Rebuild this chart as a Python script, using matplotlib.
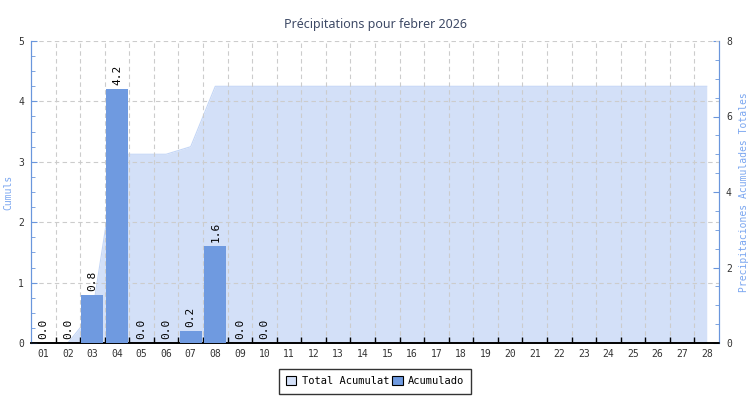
import matplotlib
matplotlib.use("Agg")
import matplotlib.pyplot as plt
from matplotlib.patches import Patch
from matplotlib.ticker import MultipleLocator, FixedLocator

# Daily values for February 2026
days = [f"{d:02d}" for d in range(1, 29)]
daily_mm = [0.0, 0.0, 0.8, 4.2, 0.0, 0.0, 0.2, 1.6, 0.0, 0.0]
total_mm = [0.0, 0.0, 0.8, 5.0, 5.0, 5.0, 5.2, 6.8, 6.8, 6.8,
            6.8, 6.8, 6.8, 6.8, 6.8, 6.8, 6.8, 6.8, 6.8, 6.8,
            6.8, 6.8, 6.8, 6.8, 6.8, 6.8, 6.8, 6.8]

title = "Précipitations pour febrer 2026"
left_label = "Cumuls"
right_label = "Precipitaciones Acumulades Totales"
legend_labels = ["Total Acumulat", "Acumulado"]

BAR = "#6f9ae0"
AREA = "#d3e0f8"
AXBLUE = "#6a96dc"
LABBLUE = "#7aa6f0"
MONO = "DejaVu Sans Mono"

fig = plt.figure(figsize=(7.5, 4.0), dpi=100)
ax = fig.add_axes([0.0413, 0.1425, 0.9174, 0.755])
ax2 = ax.twinx()

x_all = list(range(1, len(days) + 1))
x_bars = x_all[:len(daily_mm)]

# cumulative area on the right-hand scale
ax2.fill_between(x_all, 0, total_mm, color=AREA, linewidth=0, zorder=1)
ax2.plot(x_all, total_mm, color="#c4d6f6", linewidth=0.8, zorder=2)
ax2.set_ylim(0, 8)

# daily bars on the left-hand scale, drawn above the area
ax.set_zorder(ax2.get_zorder() + 1)
ax.patch.set_visible(False)
ax.bar(x_bars, daily_mm, width=0.9, color=BAR, zorder=3)
for xi, v in zip(x_bars, daily_mm):
    ax.annotate(f"{v:.1f}", (xi, v), xytext=(0, 3), textcoords="offset points",
                rotation=90, ha="center", va="bottom", fontsize=8,
                family=MONO, color="black", zorder=4)

ax.set_xlim(0.5, len(days) + 0.5)
ax.set_ylim(0, 5)

# x axis: labels at day centres, ticks and grid at day boundaries
ax.xaxis.set_major_locator(FixedLocator(x_all))
ax.set_xticklabels(days)
ax.xaxis.set_minor_locator(FixedLocator([x + 0.5 for x in x_all[:-1]]))
ax.tick_params(axis="x", which="major", length=0, pad=4, labelsize=7,
               labelcolor="#333333")
ax.tick_params(axis="x", which="minor", length=4, direction="in",
               color="black", width=1)
ax.grid(axis="x", which="minor", color="#cccccc", linestyle=(0, (4, 3)),
        linewidth=0.8)
ax.grid(axis="y", which="major", color="#cccccc", linestyle=(0, (4, 3)),
        linewidth=0.8)

ax.yaxis.set_major_locator(MultipleLocator(1))
ax.yaxis.set_minor_locator(MultipleLocator(0.25))
ax.tick_params(axis="y", which="major", length=4, direction="in",
               color=AXBLUE, labelsize=7, labelcolor="#333333", pad=5)
ax.tick_params(axis="y", which="minor", length=3, direction="in",
               color=AXBLUE)

ax2.yaxis.set_major_locator(MultipleLocator(2))
ax2.yaxis.set_minor_locator(MultipleLocator(0.5))
ax2.tick_params(axis="y", which="major", length=4, direction="in",
                color=AXBLUE, labelsize=7, labelcolor="#333333", pad=5)
ax2.tick_params(axis="y", which="minor", length=3, direction="in",
                color=AXBLUE)

for a in (ax, ax2):
    a.spines["top"].set_visible(False)
    a.spines["left"].set_color(AXBLUE)
    a.spines["right"].set_color(AXBLUE)
    a.spines["bottom"].set_color("black")
    a.spines["bottom"].set_linewidth(1.2)
    for lbl in a.get_xticklabels() + a.get_yticklabels():
        lbl.set_family(MONO)

ax.set_ylabel(left_label, color=LABBLUE, fontsize=7, family=MONO)
ax.yaxis.label.set_verticalalignment("center")
ax.yaxis.set_label_coords(-0.0335, 0.5)
ax2.set_ylabel(right_label, color=LABBLUE, fontsize=7, family=MONO)
ax2.yaxis.label.set_verticalalignment("center")
ax2.yaxis.set_label_coords(1.0365, 0.5)

fig.text(0.5, 0.938, title, ha="center", va="center", fontsize=9,
         family="Noto Sans", color="#3e4a66")

handles = [Patch(facecolor=AREA, edgecolor="black", linewidth=0.8),
           Patch(facecolor=BAR, edgecolor="black", linewidth=0.8)]
leg = fig.legend(handles, legend_labels, loc="center",
                 bbox_to_anchor=(0.5, 0.047), ncol=2, frameon=True,
                 fancybox=False, edgecolor="black",
                 prop={"family": MONO, "size": 7.5}, handlelength=1.0,
                 handleheight=1.0, handletextpad=0.5, columnspacing=0.3,
                 borderpad=0.7)
leg.get_frame().set_linewidth(1.0)

fig.savefig("out.png", dpi=100)
